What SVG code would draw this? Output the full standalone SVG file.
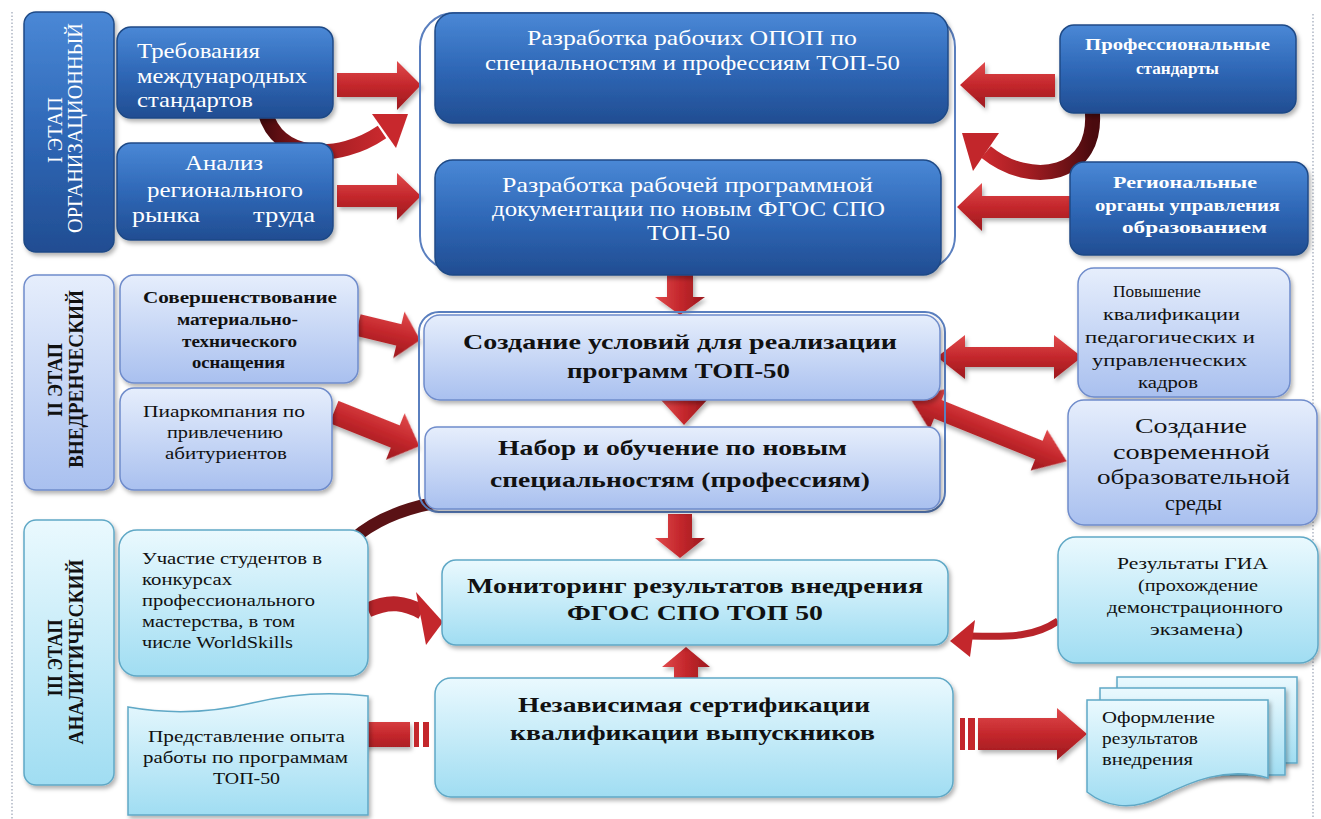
<svg xmlns="http://www.w3.org/2000/svg" width="1321" height="819" viewBox="0 0 1321 819" font-family="'Liberation Serif', 'DejaVu Serif', serif">
<defs>
<linearGradient id="gDark" x1="0" y1="0" x2="0" y2="1"><stop offset="0" stop-color="#4a88d6"/><stop offset="0.5" stop-color="#2f68b7"/><stop offset="1" stop-color="#214d92"/></linearGradient>
<linearGradient id="gLight" x1="0" y1="0" x2="0" y2="1"><stop offset="0" stop-color="#e6eefc"/><stop offset="1" stop-color="#a9c0ef"/></linearGradient>
<linearGradient id="gCyan" x1="0" y1="0" x2="0" y2="1"><stop offset="0" stop-color="#eaf9fe"/><stop offset="1" stop-color="#a0ddf2"/></linearGradient>
<linearGradient id="gRed" x1="0" y1="0" x2="0" y2="1"><stop offset="0" stop-color="#e04a4c"/><stop offset="0.5" stop-color="#c4272c"/><stop offset="1" stop-color="#9c191e"/></linearGradient>
<linearGradient id="gRedV" x1="0" y1="0" x2="1" y2="0"><stop offset="0" stop-color="#e04a4c"/><stop offset="0.5" stop-color="#c4272c"/><stop offset="1" stop-color="#9c191e"/></linearGradient>
<linearGradient id="gCurveA" x1="0" y1="0" x2="1" y2="0"><stop offset="0" stop-color="#4a0a0e"/><stop offset="0.5" stop-color="#a31d22"/><stop offset="1" stop-color="#c9292e"/></linearGradient>
<linearGradient id="gCurveB" x1="1" y1="0" x2="0" y2="0"><stop offset="0" stop-color="#4a0a0e"/><stop offset="0.6" stop-color="#a31d22"/><stop offset="1" stop-color="#c9292e"/></linearGradient>
<filter id="sh" x="-10%" y="-10%" width="125%" height="130%"><feDropShadow dx="2" dy="3" stdDeviation="2" flood-color="#000" flood-opacity="0.3"/></filter>
<style>
.dark{fill:url(#gDark);stroke:#1f4a86;stroke-width:1.5;filter:url(#sh)}
.light{fill:url(#gLight);stroke:#6f8ccb;stroke-width:1.5;filter:url(#sh)}
.cyan{fill:url(#gCyan);stroke:#5fa8c6;stroke-width:1.5;filter:url(#sh)}
.frame{fill:none;stroke:#5a7fbf;stroke-width:2}
.arr{fill:url(#gRed);filter:url(#sh)}
.arrv{fill:url(#gRedV);filter:url(#sh)}
text{font-family:'Liberation Serif','DejaVu Serif',serif}
.w{fill:#ffffff}
.k{fill:#111111}
.b{font-weight:bold}
.c{text-anchor:middle}
.dot{stroke:#9aa3b5;stroke-width:1.2;stroke-dasharray:1.5 2}
</style>
</defs>
<rect width="1321" height="819" fill="#ffffff"/>
<line class="dot" x1="12" y1="12" x2="12" y2="819"/>
<line class="dot" x1="1313" y1="14" x2="1313" y2="819"/>

<g id="connectors">
<path d="M265 112 C278 160 338 162 382 132" fill="none" stroke="url(#gCurveA)" stroke-width="15"/>
<polygon points="408,114 372,114 396,148" fill="#c8282d"/>
<path d="M1092 108 C1100 178 1030 188 986 152" fill="none" stroke="url(#gCurveB)" stroke-width="15"/>
<polygon points="962,133 999,133 973,171" fill="#c2262b"/>
<path d="M352 540 C372 522 398 510 434 503" fill="none" stroke="#5a1215" stroke-width="12"/>
<polygon class="arr" points="337,73 397,73 397,61 421,85 397,110 397,97 337,97"/>
<polygon class="arr" points="337,185 397,185 397,173 421,196 397,220 397,207 337,207"/>
<polygon class="arr" points="1055,74 985,74 985,62 960,85 985,108 985,97 1055,97"/>
<polygon class="arr" points="1073,196 982,196 982,183 957,207 982,231 982,218 1073,218"/>
<polygon class="arrv" points="667,274 693,274 693,297 705,297 680,315 655,297 667,297"/>
<polygon class="arrv" points="672,382 697,382 697,400 707,400 684,425 661,400 672,400"/>
<polygon class="arrv" points="668,514 692,514 692,538 705,538 680,558 655,538 668,538"/>
<polygon class="arrv" points="674,683 698,683 698,667 710,667 686,647 662,667 674,667"/>
<polygon class="arr" transform="translate(358,325) rotate(13.6)" points="0,-11 42,-11 42,-24 64,0 42,24 42,11 0,11"/>
<polygon class="arr" transform="translate(334,412) rotate(21.8)" points="0,-12 66,-12 66,-25 92,0 66,25 66,12 0,12"/>
<polygon class="arr" points="937,357 965,335 965,347 1054,347 1054,335 1082,357 1054,379 1054,367 965,367 965,379"/>
<polygon class="arr" transform="translate(910,398) rotate(22)" points="0,0 30,-22 30,-10 139,-10 139,-22 169,0 139,22 139,10 30,10 30,22"/>
<path d="M368 610 C390 600 405 603 422 612" fill="none" stroke="#b8242a" stroke-width="15"/>
<polygon points="443,622 416,592 426,645" fill="#c4272c"/>
<path d="M1058 621 C1030 640 1000 636 968 636" fill="none" stroke="#b8242a" stroke-width="7"/>
<polygon points="950,641 975,620 970,657" fill="#c4272c"/>
<polygon class="arr" points="410,722 365,722 365,714 342,735 365,756 365,747 410,747"/>
<rect x="414" y="722" width="5" height="25" fill="#c4272c"/>
<rect x="423" y="722" width="6" height="25" fill="#c4272c"/>
<rect x="960" y="718" width="5" height="32" fill="#c4272c"/>
<rect x="968" y="718" width="7" height="32" fill="#c4272c"/>
<polygon class="arr" points="978,718 1057,718 1057,708 1087,734 1057,760 1057,750 978,750"/>
</g>

<g id="frames">
<rect class="frame" x="420" y="13" width="535" height="257" rx="34"/>
<rect class="frame" x="419" y="312" width="526" height="200" rx="20"/>
</g>

<g id="stage1">
<rect class="dark" x="24" y="12" width="90" height="240" rx="12"/>
<text class="w c" x="62" y="130" font-size="21" textLength="66" lengthAdjust="spacingAndGlyphs" transform="rotate(-90 62 130)">I ЭТАП</text>
<text class="w c" x="82" y="128" font-size="21" textLength="210" lengthAdjust="spacingAndGlyphs" transform="rotate(-90 82 128)">ОРГАНИЗАЦИОННЫЙ</text>
</g>
<g id="n-treb">
<rect class="dark" x="117" y="27" width="216" height="91" rx="14"/>
<text class="w" x="137" y="58" font-size="22" textLength="123" lengthAdjust="spacingAndGlyphs">Требования</text>
<text class="w" x="137" y="83" font-size="22" textLength="170" lengthAdjust="spacingAndGlyphs">международных</text>
<text class="w" x="137" y="107" font-size="22" textLength="116" lengthAdjust="spacingAndGlyphs">стандартов</text>
</g>
<g id="n-analiz">
<rect class="dark" x="117" y="143" width="216" height="97" rx="14"/>
<text class="w" x="185" y="170" font-size="22" textLength="78" lengthAdjust="spacingAndGlyphs">Анализ</text>
<text class="w" x="147" y="197" font-size="22" textLength="156" lengthAdjust="spacingAndGlyphs">регионального</text>
<text class="w" x="132" y="222" font-size="22" textLength="68" lengthAdjust="spacingAndGlyphs">рынка</text>
<text class="w" x="253" y="222" font-size="22" textLength="62" lengthAdjust="spacingAndGlyphs">труда</text>
</g>
<g id="n-opop">
<rect class="dark" x="435" y="13" width="513" height="110" rx="18"/>
<text class="w" x="527" y="45" font-size="22" textLength="330" lengthAdjust="spacingAndGlyphs">Разработка рабочих ОПОП по</text>
<text class="w" x="485" y="70" font-size="22" textLength="415" lengthAdjust="spacingAndGlyphs">специальностям и профессиям ТОП-50</text>
</g>
<g id="n-docs">
<rect class="dark" x="435" y="160" width="506" height="115" rx="18"/>
<text class="w" x="502" y="192" font-size="22" textLength="371" lengthAdjust="spacingAndGlyphs">Разработка рабочей программной</text>
<text class="w" x="492" y="216" font-size="22" textLength="393" lengthAdjust="spacingAndGlyphs">документации по новым ФГОС СПО</text>
<text class="w" x="647" y="240" font-size="22" textLength="83" lengthAdjust="spacingAndGlyphs">ТОП-50</text>
</g>
<g id="n-prof">
<rect class="dark" x="1060" y="25" width="236" height="88" rx="14"/>
<text class="w b" x="1085" y="50" font-size="17" textLength="185" lengthAdjust="spacingAndGlyphs">Профессиональные</text>
<text class="w b" x="1136" y="74" font-size="17" textLength="83" lengthAdjust="spacingAndGlyphs">стандарты</text>
</g>
<g id="n-region">
<rect class="dark" x="1070" y="162" width="238" height="93" rx="14"/>
<text class="w b" x="1113" y="188" font-size="17" textLength="144" lengthAdjust="spacingAndGlyphs">Региональные</text>
<text class="w b" x="1095" y="211" font-size="17" textLength="185" lengthAdjust="spacingAndGlyphs">органы управления</text>
<text class="w b" x="1122" y="233" font-size="17" textLength="145" lengthAdjust="spacingAndGlyphs">образованием</text>
</g>

<g id="stage2">
<rect class="light" x="24" y="275" width="90" height="215" rx="12"/>
<text class="k b c" x="62" y="380" font-size="20" textLength="74" lengthAdjust="spacingAndGlyphs" transform="rotate(-90 62 380)">II ЭТАП</text>
<text class="k b c" x="83" y="379" font-size="20" textLength="178" lengthAdjust="spacingAndGlyphs" transform="rotate(-90 83 379)">ВНЕДРЕНЧЕСКИЙ</text>
</g>
<g id="n-sover">
<rect class="light" x="120" y="275" width="238" height="108" rx="14"/>
<text class="k b" x="143" y="303" font-size="17" textLength="194" lengthAdjust="spacingAndGlyphs">Совершенствование</text>
<text class="k b" x="177" y="325" font-size="17" textLength="121" lengthAdjust="spacingAndGlyphs">материально-</text>
<text class="k b" x="182" y="347" font-size="17" textLength="115" lengthAdjust="spacingAndGlyphs">технического</text>
<text class="k b" x="192" y="368" font-size="17" textLength="93" lengthAdjust="spacingAndGlyphs">оснащения</text>
</g>
<g id="n-piar">
<rect class="light" x="120" y="388" width="212" height="102" rx="14"/>
<text class="k" x="143" y="417" font-size="17" textLength="162" lengthAdjust="spacingAndGlyphs">Пиаркомпания по</text>
<text class="k" x="167" y="438" font-size="17" textLength="116" lengthAdjust="spacingAndGlyphs">привлечению</text>
<text class="k" x="165" y="459" font-size="17" textLength="122" lengthAdjust="spacingAndGlyphs">абитуриентов</text>
</g>
<g id="n-usl">
<rect class="light" x="424" y="315" width="516" height="85" rx="16"/>
<text class="k b" x="463" y="349" font-size="22" textLength="434" lengthAdjust="spacingAndGlyphs">Создание условий для  реализации</text>
<text class="k b" x="567" y="378" font-size="22" textLength="223" lengthAdjust="spacingAndGlyphs">программ ТОП-50</text>
</g>
<g id="n-nabor">
<rect class="light" x="425" y="427" width="515" height="82" rx="12"/>
<text class="k b" x="498" y="455" font-size="22" textLength="349" lengthAdjust="spacingAndGlyphs">Набор и обучение по новым</text>
<text class="k b" x="490" y="487" font-size="22" textLength="380" lengthAdjust="spacingAndGlyphs">специальностям (профессиям)</text>
</g>
<g id="n-pov">
<rect class="light" x="1078" y="268" width="212" height="129" rx="16"/>
<text class="k" x="1113" y="297" font-size="16.5" textLength="88" lengthAdjust="spacingAndGlyphs">Повышение</text>
<text class="k" x="1103" y="320" font-size="16.5" textLength="137" lengthAdjust="spacingAndGlyphs">квалификации</text>
<text class="k" x="1085" y="343" font-size="16.5" textLength="170" lengthAdjust="spacingAndGlyphs">педагогических и</text>
<text class="k" x="1092" y="366" font-size="16.5" textLength="155" lengthAdjust="spacingAndGlyphs">управленческих</text>
<text class="k" x="1138" y="388" font-size="16.5" textLength="60" lengthAdjust="spacingAndGlyphs">кадров</text>
</g>
<g id="n-sreda">
<rect class="light" x="1068" y="400" width="249" height="125" rx="16"/>
<text class="k" x="1135" y="433" font-size="21" textLength="112" lengthAdjust="spacingAndGlyphs">Создание</text>
<text class="k" x="1113" y="459" font-size="21" textLength="157" lengthAdjust="spacingAndGlyphs">современной</text>
<text class="k" x="1097" y="484" font-size="21" textLength="193" lengthAdjust="spacingAndGlyphs">образовательной</text>
<text class="k" x="1165" y="510" font-size="21" textLength="57" lengthAdjust="spacingAndGlyphs">среды</text>
</g>

<g id="stage3">
<rect class="cyan" x="24" y="520" width="90" height="265" rx="12"/>
<text class="k b c" x="62" y="658" font-size="20" textLength="77" lengthAdjust="spacingAndGlyphs" transform="rotate(-90 62 658)">III ЭТАП</text>
<text class="k b c" x="83" y="652" font-size="20" textLength="185" lengthAdjust="spacingAndGlyphs" transform="rotate(-90 83 652)">АНАЛИТИЧЕСКИЙ</text>
</g>
<g id="n-uch">
<rect class="cyan" x="119" y="530" width="249" height="146" rx="18"/>
<text class="k" x="142" y="564" font-size="16.5" textLength="180" lengthAdjust="spacingAndGlyphs">Участие студентов в</text>
<text class="k" x="142" y="585" font-size="16.5" textLength="90" lengthAdjust="spacingAndGlyphs">конкурсах</text>
<text class="k" x="142" y="606" font-size="16.5" textLength="173" lengthAdjust="spacingAndGlyphs">профессионального</text>
<text class="k" x="142" y="627" font-size="16.5" textLength="153" lengthAdjust="spacingAndGlyphs">мастерства, в том</text>
<text class="k" x="142" y="648" font-size="16.5" textLength="151" lengthAdjust="spacingAndGlyphs">числе WorldSkills</text>
</g>
<g id="n-pred">
<path class="cyan" d="M128 707 Q190 718 252 703 Q310 689 368 696 L368 815 L128 815 Z"/>
<text class="k" x="148" y="742" font-size="16.5" textLength="197" lengthAdjust="spacingAndGlyphs">Представление опыта</text>
<text class="k" x="143" y="763" font-size="16.5" textLength="205" lengthAdjust="spacingAndGlyphs">работы по программам</text>
<text class="k" x="213" y="784" font-size="16.5" textLength="67" lengthAdjust="spacingAndGlyphs">ТОП-50</text>
</g>
<g id="n-mon">
<rect class="cyan" x="442" y="560" width="506" height="85" rx="14"/>
<text class="k b" x="467" y="593" font-size="22" textLength="456" lengthAdjust="spacingAndGlyphs">Мониторинг  результатов  внедрения</text>
<text class="k b" x="567" y="620" font-size="22" textLength="256" lengthAdjust="spacingAndGlyphs">ФГОС СПО ТОП 50</text>
</g>
<g id="n-nez">
<rect class="cyan" x="435" y="678" width="518" height="119" rx="16"/>
<text class="k b" x="518" y="712" font-size="22" textLength="352" lengthAdjust="spacingAndGlyphs">Независимая сертификации</text>
<text class="k b" x="510" y="740" font-size="22" textLength="365" lengthAdjust="spacingAndGlyphs">квалификации выпускников</text>
</g>
<g id="n-gia">
<rect class="cyan" x="1058" y="537" width="260" height="126" rx="18"/>
<text class="k" x="1117" y="569" font-size="16.5" textLength="151" lengthAdjust="spacingAndGlyphs">Результаты  ГИА</text>
<text class="k" x="1138" y="591" font-size="16.5" textLength="120" lengthAdjust="spacingAndGlyphs">(прохождение</text>
<text class="k" x="1107" y="613" font-size="16.5" textLength="176" lengthAdjust="spacingAndGlyphs">демонстрационного</text>
<text class="k" x="1150" y="635" font-size="16.5" textLength="93" lengthAdjust="spacingAndGlyphs">экзамена)</text>
</g>
<g id="n-oform">
<path class="cyan" d="M1117 677 L1297 677 L1297 763 L1117 763 Z"/>
<path class="cyan" d="M1100 688 L1285 688 L1285 775 L1100 775 Z"/>
<path class="cyan" d="M1087 700 L1268 700 L1268 778 C1225 766 1190 782 1160 797 C1130 812 1105 806 1087 792 Z"/>
<text class="k" x="1102" y="723" font-size="16.5" textLength="113" lengthAdjust="spacingAndGlyphs">Оформление</text>
<text class="k" x="1102" y="744" font-size="16.5" textLength="96" lengthAdjust="spacingAndGlyphs">результатов</text>
<text class="k" x="1102" y="765" font-size="16.5" textLength="91" lengthAdjust="spacingAndGlyphs">внедрения</text>
</g>
</svg>
